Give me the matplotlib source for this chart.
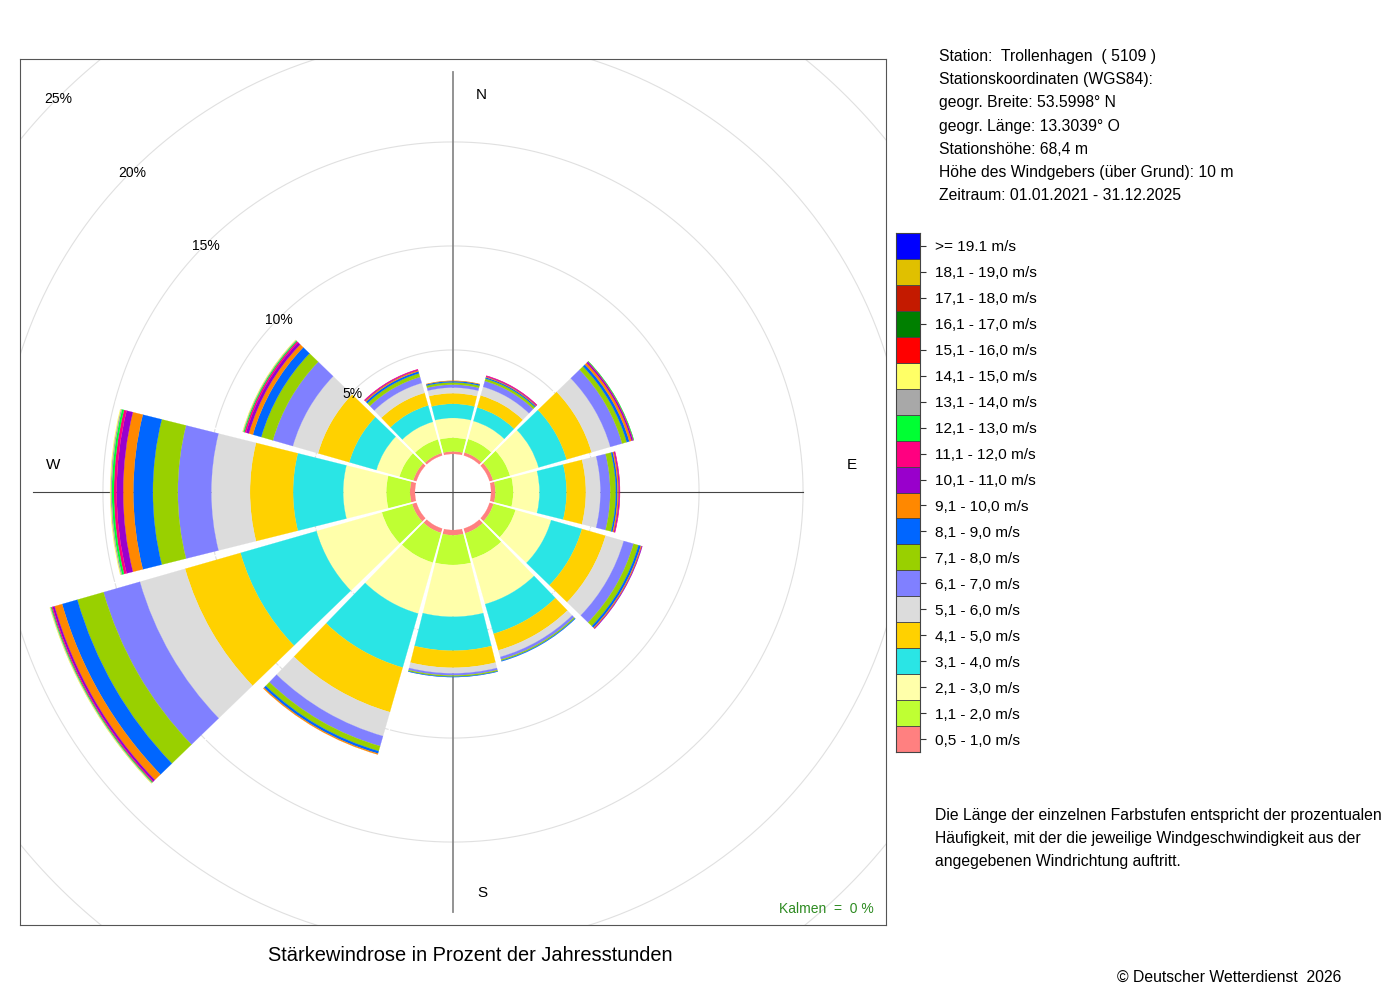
import numpy as np
import matplotlib.pyplot as plt
from matplotlib.patches import Wedge

plt.rcParams['font.family'] = ['Liberation Sans', 'DejaVu Sans']

# wind direction of each sector (degrees, clockwise from north)
directions = [0, 30, 60, 90, 120, 150, 180, 210, 240, 270, 300, 330]

# speed classes, from calm to strong
class_labels = ["0,5 - 1,0 m/s", "1,1 - 2,0 m/s", "2,1 - 3,0 m/s", "3,1 - 4,0 m/s",
                "4,1 - 5,0 m/s", "5,1 - 6,0 m/s", "6,1 - 7,0 m/s", "7,1 - 8,0 m/s",
                "8,1 - 9,0 m/s", "9,1 - 10,0 m/s", "10,1 - 11,0 m/s", "11,1 - 12,0 m/s",
                "12,1 - 13,0 m/s", "13,1 - 14,0 m/s", "14,1 - 15,0 m/s", "15,1 - 16,0 m/s",
                "16,1 - 17,0 m/s", "17,1 - 18,0 m/s", "18,1 - 19,0 m/s", ">= 19.1 m/s"]
class_colors = ["#FF8080", "#BFFF33", "#FFFFAA", "#2AE5E5", "#FFD100", "#DCDCDC",
                "#8080FF", "#99D000", "#0066FF", "#FF8800", "#9900CC", "#FF0080",
                "#00FF33", "#A8A8A8", "#FFFF66", "#FF0000", "#007F00", "#C41A00",
                "#E0C000", "#0000FF"]

# percent of hours per speed class for every direction
sector_000 = [0.12, 0.66, 0.95, 0.68, 0.51, 0.27, 0.14, 0.11, 0.06, 0.02]
sector_030 = [0.15, 0.67, 0.90, 0.68, 0.60, 0.43, 0.29, 0.12, 0.06, 0.04, 0.03, 0.02]
sector_060 = [0.18, 0.84, 1.43, 1.40, 1.25, 0.94, 0.59, 0.23, 0.13, 0.11, 0.07, 0.03, 0.02]
sector_090 = [0.21, 0.86, 1.26, 1.30, 0.93, 0.70, 0.47, 0.27, 0.08, 0.06, 0.04, 0.02]
sector_120 = [0.20, 1.10, 1.78, 1.54, 1.18, 0.91, 0.49, 0.25, 0.11, 0.05, 0.03]
sector_150 = [0.24, 1.26, 2.28, 1.48, 0.83, 0.33, 0.13, 0.06, 0.03]
sector_180 = [0.25, 1.43, 2.49, 1.63, 0.82, 0.27, 0.10, 0.06, 0.02]
sector_210 = [0.22, 1.48, 2.55, 2.70, 2.23, 1.20, 0.50, 0.25, 0.12, 0.05]
sector_240 = [0.22, 1.51, 3.27, 3.80, 2.77, 2.26, 1.82, 1.31, 0.76, 0.38, 0.10, 0.05, 0.04, 0.03, 0.02]
sector_270 = [0.24, 1.14, 2.07, 2.41, 2.07, 1.86, 1.61, 1.20, 0.94, 0.49, 0.31, 0.13, 0.10, 0.06, 0.03]
sector_300 = [0.16, 0.69, 1.15, 1.36, 1.56, 1.26, 1.00, 0.58, 0.42, 0.20, 0.14, 0.08, 0.05, 0.03, 0.02]
sector_330 = [0.12, 0.68, 0.88, 0.82, 0.63, 0.49, 0.30, 0.18, 0.10, 0.06, 0.03, 0.02]

sectors = [sector_000, sector_030, sector_060, sector_090, sector_120, sector_150,
           sector_180, sector_210, sector_240, sector_270, sector_300, sector_330]

ring_pct = [5, 10, 15, 20, 25]
calm_pct = 0

station_text = ["Station:  Trollenhagen  ( 5109 )",
                "Stationskoordinaten (WGS84):",
                "geogr. Breite: 53.5998° N",
                "geogr. Länge: 13.3039° O",
                "Stationshöhe: 68,4 m",
                "Höhe des Windgebers (über Grund): 10 m",
                "Zeitraum: 01.01.2021 - 31.12.2025"]
note_text = ["Die Länge der einzelnen Farbstufen entspricht der prozentualen",
             "Häufigkeit, mit der die jeweilige Windgeschwindigkeit aus der",
             "angegebenen Windrichtung auftritt."]

W, H = 1400, 1000
hole = 1.83          # radius of the empty centre, in percent units
half_width = 14.0    # angular half width of a sector
scale = 20.8         # pixels per percent
nudge = 2 / scale    # text sits a little lower than its centre

fig = plt.figure(figsize=(14, 10), dpi=100)


def fx(x):
    return x / W


def fy(y):
    return 1 - (y + 1.5) / H


ax = fig.add_axes([20 / W, 75 / H, 866 / W, 866 / H])
lim = 433 / scale
ax.set_xlim(-lim, lim)
ax.set_ylim(-lim, lim)
ax.set_aspect('equal')
ax.set_xticks([])
ax.set_yticks([])
for sp in ax.spines.values():
    sp.set_color('#555555')
    sp.set_linewidth(0.8)

# percent circles
t = np.linspace(0, 2 * np.pi, 721)
for p in ring_pct:
    ax.plot((hole + p) * np.cos(t), (hole + p) * np.sin(t), color='#E0E0E0', lw=0.8, zorder=1)
    a = np.deg2rad(135)
    ax.text((hole + p) * np.cos(a), (hole + p) * np.sin(a) - nudge, f"{p}%", fontsize=10,
            ha='center', va='center', zorder=5)

# cross lines
ax.plot([0, 0], [-420 / scale, 420 / scale], color='#8A8A8A', lw=1.3, zorder=2)
ax.plot([-420 / scale, 350 / scale], [0, 0], color='#444444', lw=0.8, zorder=2)

# stacked sectors
for d, vals in zip(directions, sectors):
    base = hole
    th1 = 90 - d - half_width
    th2 = 90 - d + half_width
    for k, v in enumerate(vals):
        w = Wedge((0, 0), base + v, th1, th2, width=v, facecolor=class_colors[k],
                  edgecolor=class_colors[k], lw=0.15, zorder=3)
        ax.add_patch(w)
        base += v

# white separators between neighbouring sectors
totals = [sum(s) for s in sectors]
for i, d in enumerate(directions):
    reach = hole + max(totals[i], totals[(i + 1) % len(totals)]) + 0.3
    a = np.deg2rad(90 - d - 15)
    ax.plot([hole * 0.9 * np.cos(a), reach * np.cos(a)],
            [hole * 0.9 * np.sin(a), reach * np.sin(a)],
            color='white', lw=1.1, solid_capstyle='butt', zorder=4)

# compass letters
ax.text((481 - 453) / scale, (492 - 93) / scale - nudge, "N", fontsize=11, ha='center', va='center')
ax.text((482 - 453) / scale, (492 - 891) / scale - nudge, "S", fontsize=11, ha='center', va='center')
ax.text((53 - 453) / scale, (492 - 463) / scale - nudge, "W", fontsize=11, ha='center', va='center')
ax.text((852 - 453) / scale, (492 - 463) / scale - nudge, "E", fontsize=11, ha='center', va='center')

ax.text(0.986, 0.018, f"Kalmen  =  {calm_pct} %", transform=ax.transAxes, fontsize=10,
        color='#2E8B22', ha='right', va='center')

fig.text(fx(470), fy(954), "Stärkewindrose in Prozent der Jahresstunden", fontsize=14.4,
         ha='center', va='center')

for i, line in enumerate(station_text):
    fig.text(fx(939), fy(55 + i * 23.2), line, fontsize=11.3, ha='left', va='center')

# colour legend
lax = fig.add_axes([896 / W, 248 / H, 24 / W, 519 / H])
for i, c in enumerate(class_colors):
    lax.bar(0, 1, bottom=i, width=1, color=c, edgecolor='#444444', lw=0.6)
lax.set_xlim(-0.5, 0.5)
lax.set_ylim(0, len(class_colors))
lax.set_xticks([])
lax.yaxis.tick_right()
lax.set_yticks(np.arange(len(class_labels)) + 0.5)
lax.set_yticklabels(class_labels, fontsize=11.1)
lax.tick_params(axis='y', length=4, width=0.8, pad=7, colors='#333333', labelcolor='black')
for sp in lax.spines.values():
    sp.set_color('#444444')
    sp.set_linewidth(0.8)

for i, line in enumerate(note_text):
    fig.text(fx(935), fy(814 + i * 23), line, fontsize=11.3, ha='left', va='center')

fig.text(fx(1341), fy(976), "© Deutscher Wetterdienst  2026", fontsize=11.3,
         ha='right', va='center')

fig.savefig("out.png", dpi=100)
